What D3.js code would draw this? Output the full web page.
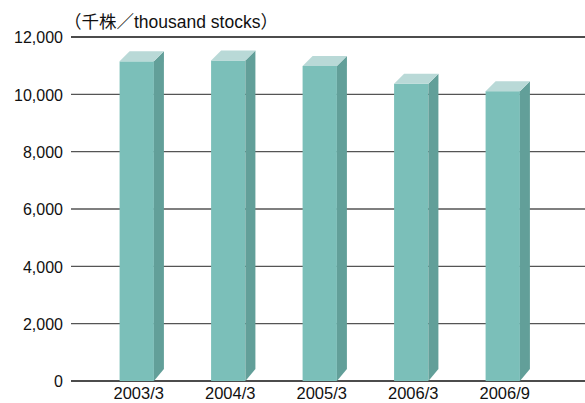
<!DOCTYPE html>
<html><head><meta charset="utf-8">
<script src="https://cdn.jsdelivr.net/npm/d3@7"></script>
<style>
body{margin:0;background:#fff;}
text{font-family:"Liberation Sans",Arial,"Noto Sans CJK JP",sans-serif;}
</style></head>
<body><svg id="c" width="585" height="403"></svg>
<script>
const categories = ["2003/3","2004/3","2005/3","2006/3","2006/9"];
const values = [11150, 11180, 10990, 10370, 10110];
const yTicks = [0,2000,4000,6000,8000,10000,12000];
const unitLabel = "（千株／thousand stocks）";

(function(){
const svg = d3.select("#c");
const mLeft = 71, mRight = 585, mTop = 37, mBottom = 381;
const y = d3.scaleLinear().domain([0,12000]).range([mBottom, mTop]);
const x = d3.scaleBand().domain(categories).range([91, 548.5]).paddingInner(0.625).paddingOuter(0.3125);
const depth = 10;

// gridlines
svg.append("g").selectAll("line").data(yTicks).join("line")
  .attr("x1", mLeft).attr("x2", mRight)
  .attr("y1", d=>y(d)).attr("y2", d=>y(d))
  .attr("stroke", d=> (d===0||d===12000) ? "#111" : "#555")
  .attr("stroke-width", 1.4);

// y labels
const yAxis = d3.axisLeft(y).tickValues(yTicks).tickFormat(d3.format(",")).tickSize(0).tickPadding(0);
const ga = svg.append("g").attr("transform", `translate(${mLeft-8},0)`).call(yAxis);
ga.select(".domain").remove();
ga.selectAll("text").attr("font-size", 16).attr("fill", "#111").attr("dy", "0.36em")
  .style("font-family", '"Liberation Sans",Arial,sans-serif');

// bars
const bw = x.bandwidth();
const bars = svg.append("g").selectAll("g").data(categories.map((c,i)=>({c, v: values[i]}))).join("g");
bars.append("rect").attr("x", d=>x(d.c)).attr("y", d=>y(d.v)).attr("width", bw)
  .attr("height", d=>mBottom - y(d.v)).attr("fill", "#7bbfb9");
bars.append("path").attr("fill", "#629f99").attr("d", d=>{
  const x1 = x(d.c)+bw, yt = y(d.v);
  return `M${x1},${yt}L${x1+depth},${yt-depth}L${x1+depth},${mBottom-depth-2}L${x1},${mBottom}Z`;
});
bars.append("path").attr("fill", "#b9d9d7").attr("d", d=>{
  const x0 = x(d.c), x1 = x0+bw, yt = y(d.v);
  return `M${x0},${yt}L${x0+depth},${yt-depth}L${x1+depth},${yt-depth}L${x1},${yt}Z`;
});

// x labels
const xAxis = d3.axisBottom(x).tickSize(0).tickPadding(0);
const gx = svg.append("g").attr("transform", `translate(2,${mBottom+6})`).call(xAxis);
gx.select(".domain").remove();
gx.selectAll("text").attr("font-size", 16.5).attr("fill", "#111").attr("dy", "0.71em")
  .style("font-family", '"Liberation Sans",Arial,sans-serif');

// unit label
svg.append("text").attr("x", 64).attr("y", 28).attr("font-size", 17.5).attr("fill", "#111")
  .style("font-family", '"Liberation Sans","Noto Sans CJK JP",sans-serif')
  .text(unitLabel);
})();
</script></body></html>
